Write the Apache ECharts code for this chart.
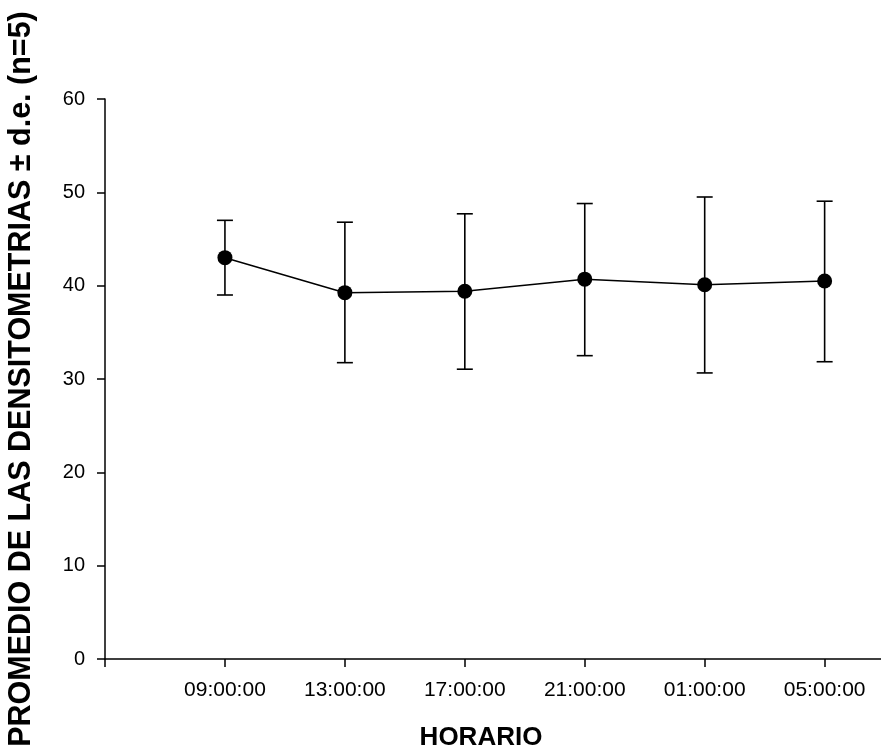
<!DOCTYPE html>
<html><head><meta charset="utf-8">
<script src="https://cdn.jsdelivr.net/npm/echarts@6/dist/echarts.min.js"></script>
<style>html,body{margin:0;padding:0;background:#fff}#c{width:881px;height:753px}</style>
</head><body><div id="c"></div>
<script>
const categories = ['09:00:00','13:00:00','17:00:00','21:00:00','01:00:00','05:00:00'];
const means = [43.0, 39.25, 39.4, 40.7, 40.1, 40.5];
const upper = [47.0, 46.8, 47.7, 48.8, 49.5, 49.05];
const lower = [39.0, 31.75, 31.05, 32.5, 30.65, 31.85];
const yTicks = [0,10,20,30,40,50,60];

const pos = categories.map((c,i)=>i+1);
const font = 'Liberation Sans, Arial, sans-serif';
const chart = echarts.init(document.getElementById('c'));
chart.setOption({
  backgroundColor:'#fff',
  animation:false,
  grid:{left:105, right:0, top:99, bottom:94, containLabel:false, outerBoundsMode:'none'},
  xAxis:{
    type:'value', min:0, max:6.47,
    axisLine:{show:true, onZero:false, lineStyle:{color:'#000', width:1.5}},
    axisTick:{show:true, length:8, lineStyle:{color:'#000', width:1.5}, customValues:[0,1,2,3,4,5,6]},
    axisLabel:{color:'#000', fontSize:21, fontFamily:font, margin:21, customValues:pos,
      formatter:v=>categories[Math.round(v)-1]||''},
    splitLine:{show:false}
  },
  yAxis:{
    type:'value', min:0, max:60, interval:10,
    name:'PROMEDIO DE LAS DENSITOMETRIAS ± d.e. (n=5)',
    nameLocation:'middle', nameGap:68, nameRotate:90,
    nameTextStyle:{color:'#000', fontSize:30.5, fontWeight:'bold', fontFamily:font},
    axisLine:{show:true, lineStyle:{color:'#000', width:1.5}},
    axisTick:{show:true, length:8, lineStyle:{color:'#000', width:1.5}},
    axisLabel:{color:'#000', fontSize:20, fontFamily:font, margin:20,
      formatter:v=>yTicks.includes(v)?String(v):''},
    splitLine:{show:false}
  },
  graphic:[{type:'text', x:481, y:751,
    style:{text:'HORARIO', fill:'#000', font:'bold 26px '+font, textAlign:'center', textVerticalAlign:'bottom'}}],
  series:[
    {type:'custom', z:1,
     data: pos.map((p,i)=>[p, lower[i], upper[i]]),
     renderItem:(params, api)=>{
       const lo = api.coord([api.value(0), api.value(1)]);
       const hi = api.coord([api.value(0), api.value(2)]);
       const hw = 8;
       const st = {stroke:'#000', lineWidth:1.6};
       return {type:'group', children:[
         {type:'line', shape:{x1:lo[0], y1:lo[1], x2:hi[0], y2:hi[1]}, style:st},
         {type:'line', shape:{x1:hi[0]-hw, y1:hi[1], x2:hi[0]+hw, y2:hi[1]}, style:st},
         {type:'line', shape:{x1:lo[0]-hw, y1:lo[1], x2:lo[0]+hw, y2:lo[1]}, style:st}
       ]};
     }},
    {type:'line', z:2, data: pos.map((p,i)=>[p, means[i]]),
     symbol:'circle', symbolSize:15,
     itemStyle:{color:'#000'}, lineStyle:{color:'#000', width:1.5}}
  ]
});
</script></body></html>
